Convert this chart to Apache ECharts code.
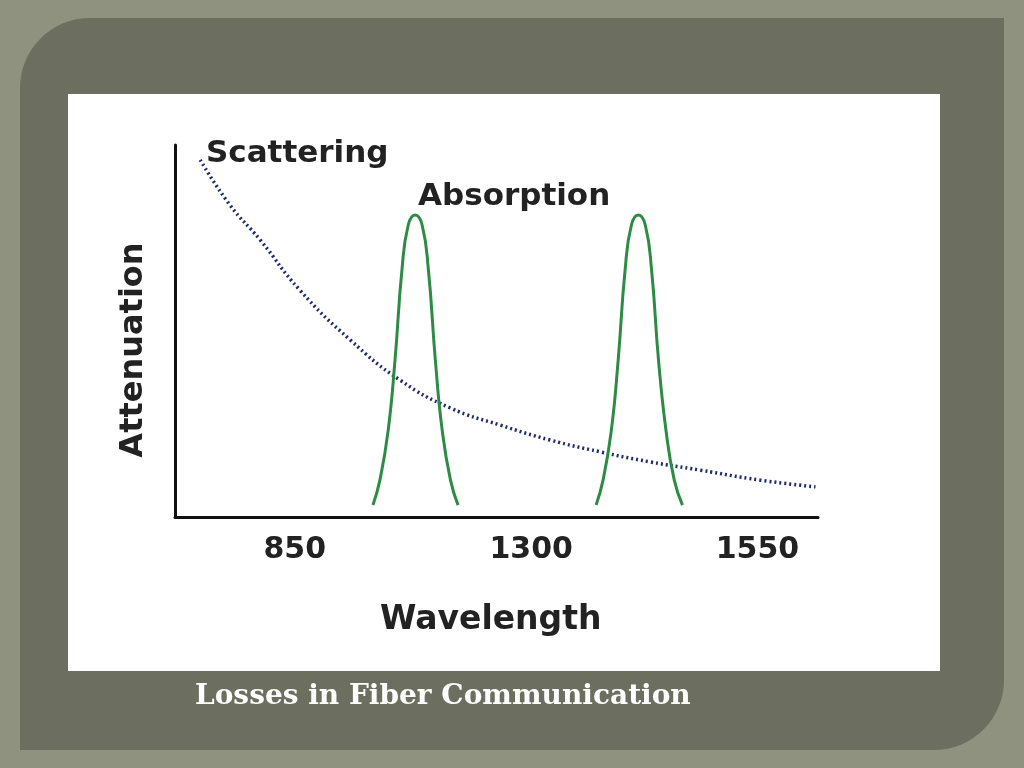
<!DOCTYPE html>
<html><head><meta charset="utf-8">
<script src="https://cdn.jsdelivr.net/npm/echarts@6/dist/echarts.min.js"></script>
<style>html,body{margin:0;padding:0;background:#8f927f}#c{width:1024px;height:768px}</style>
</head><body><div id="c"></div>
<script>
const tickPositions=[19,56.5,92.4];
const tickLabels=['850','1300','1550'];
const scatteringX=[4.0,8.7,13.5,19.8,27.8,35.7,43.7,51.6,59.5,67.5,75.4,83.3,92.9,101.6];
const scatteringY=[96.0,83.9,74.5,61.0,47.6,36.8,29.3,24.7,20.7,17.5,14.8,12.6,9.9,8.1];
const peak1X=[31.4,32.5,33.8,34.9,36.0,37.0,38.1,39.2,40.2,41.3,42.4,43.7,44.9];
const peak2X=[66.8,67.9,69.2,70.3,71.4,72.4,73.5,74.6,75.6,76.7,77.9,79.2,80.5];
const peakY=[3.2,9.9,23.1,42.2,66.4,78.5,81.2,78.5,66.4,42.2,23.1,9.9,3.2];
const zip=(a,b)=>a.map((v,i)=>[v,b[i]]);
const chart=echarts.init(document.getElementById('c'));
const F='"DejaVu Sans", sans-serif';
chart.setOption({
  animation:false,
  graphic:[
    {type:'rect',z:-10,shape:{x:20,y:18,width:984,height:732,r:[70,0,70,0]},style:{fill:'#6c6f5f'}},
    {type:'rect',z:-9,shape:{x:68,y:94,width:872,height:577},style:{fill:'#ffffff'}},
    {type:'text',left:206,top:138,style:{text:'Scattering',font:'bold 31px '+F,fill:'#222'}},
    {type:'text',left:418,top:181,style:{text:'Absorption',font:'bold 31px '+F,fill:'#222'}},
    {type:'text',left:380,top:604,style:{text:'Wavelength',font:'bold 33px '+F,fill:'#222'}},
    {type:'text',x:134,y:350,rotation:Math.PI/2,style:{text:'Attenuation',font:'bold 32px '+F,fill:'#222',align:'center',verticalAlign:'middle'}},
    {type:'text',left:195,top:683,style:{text:'Losses in Fiber Communication',font:'bold 28px "DejaVu Serif", serif',fill:'#ffffff'}}
  ],
  grid:{left:175,top:145,width:643,bottom:251,containLabel:false},
  xAxis:{type:'value',min:0,max:102,splitLine:{show:false},
    axisLine:{lineStyle:{color:'#111',width:3}},axisTick:{show:false},
    axisLabel:{customValues:tickPositions,formatter:v=>tickLabels[tickPositions.indexOf(v)]||'',
      margin:18,fontSize:30,fontWeight:'bold',color:'#222',fontFamily:F}},
  yAxis:{type:'value',min:0,max:100,splitLine:{show:false},axisLabel:{show:false},axisTick:{show:false},
    axisLine:{show:true,lineStyle:{color:'#111',width:3}}},
  series:[
    {type:'line',data:zip(scatteringX,scatteringY),smooth:true,symbol:'none',lineStyle:{color:'#1f2a6a',width:3.5,type:[2,3]}},
    {type:'line',data:zip(peak1X,peakY),smooth:true,symbol:'none',lineStyle:{color:'#2e8b45',width:3}},
    {type:'line',data:zip(peak2X,peakY),smooth:true,symbol:'none',lineStyle:{color:'#2e8b45',width:3}}
  ]
});
</script></body></html>
